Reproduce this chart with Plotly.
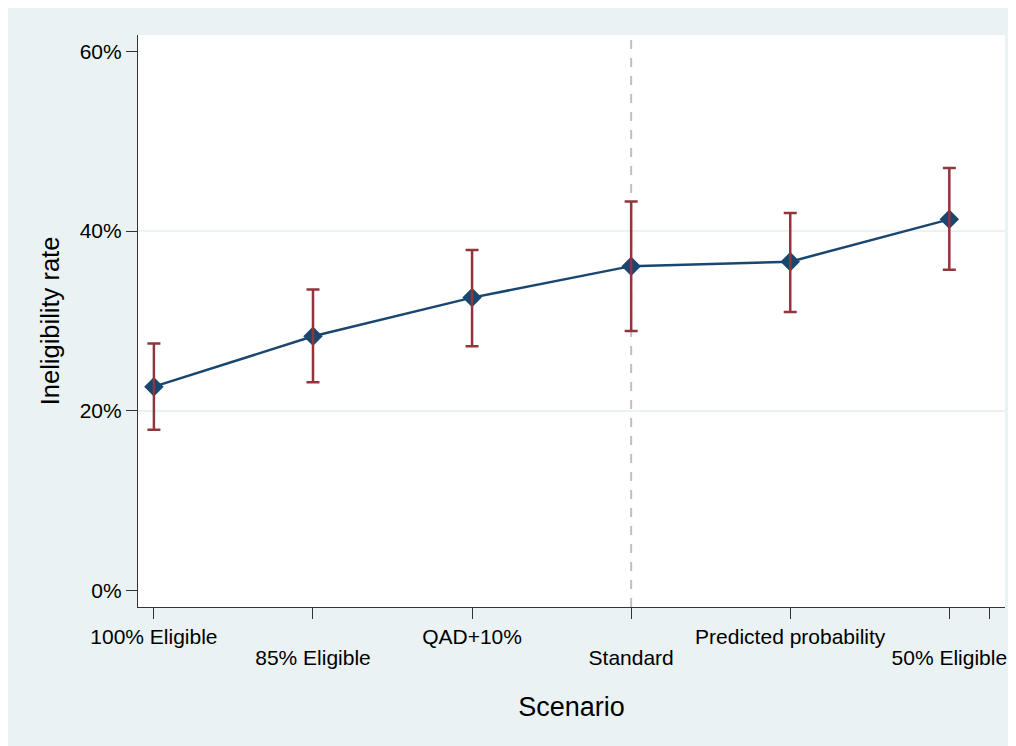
import plotly.graph_objects as go

scenarios = ["100% Eligible", "85% Eligible", "QAD+10%", "Standard", "Predicted probability", "50% Eligible"]
positions = [1, 2, 3, 4, 5, 6]
rate = [22.7, 28.3, 32.6, 36.1, 36.6, 41.3]
ci_low = [17.9, 23.2, 27.2, 28.9, 31.0, 35.7]
ci_high = [27.5, 33.5, 37.9, 43.3, 42.0, 47.0]
y_ticks = [0, 20, 40, 60]
y_tick_labels = ["0%", "20%", "40%", "60%"]
grid_values = [20, 40]
reference_scenario = "Standard"
extra_x_tick = 6.25

NAVY = "#1a476f"
MAROON = "#90353b"
BG = "#eaf2f3"
AXIS = "#333333"

err_plus = [h - r for h, r in zip(ci_high, rate)]
err_minus = [r - l for r, l in zip(rate, ci_low)]

fig = go.Figure()

# gridlines
for g in grid_values:
    fig.add_shape(type="line", xref="paper", yref="y", x0=0, x1=1, y0=g, y1=g,
                  line=dict(color=BG, width=2), layer="below")

# reference line
ref_x = positions[scenarios.index(reference_scenario)]
fig.add_shape(type="line", xref="x", yref="paper", x0=ref_x, x1=ref_x, y0=0, y1=1,
              line=dict(color="#c0c0c0", width=2, dash="dash"), layer="below")

fig.add_trace(go.Scatter(
    x=positions, y=rate, mode="lines+markers",
    line=dict(color=NAVY, width=2.5),
    marker=dict(symbol="diamond", size=15, color=NAVY),
    showlegend=False, hoverinfo="skip"))

fig.add_trace(go.Scatter(
    x=positions, y=rate, mode="markers",
    marker=dict(size=1, opacity=0),
    error_y=dict(type="data", symmetric=False, array=err_plus, arrayminus=err_minus,
                 color=MAROON, thickness=2.5, width=6.5),
    showlegend=False, hoverinfo="skip"))

# invisible trace for the second-row label axis
fig.add_trace(go.Scatter(x=positions, y=rate, xaxis="x2", mode="markers",
                         marker=dict(size=1, opacity=0), showlegend=False, hoverinfo="skip"))

row1_text = [s if i % 2 == 0 else "" for i, s in enumerate(scenarios)]
row2_vals = [p for i, p in enumerate(positions) if i % 2 == 1]
row2_text = [s for i, s in enumerate(scenarios) if i % 2 == 1]

TICKFONT = dict(size=21, color="black")

fig.update_layout(
    width=1016, height=746,
    margin=dict(l=130, r=19, t=27, b=147),
    paper_bgcolor=BG,
    plot_bgcolor="white",
    font=dict(family="Liberation Sans, Arial, sans-serif", color="black"),
    xaxis=dict(
        range=[0.9, 6.35],
        tickvals=positions + [extra_x_tick], ticktext=row1_text + [""],
        ticks="outside", ticklen=11, tickwidth=1.2, tickcolor=AXIS,
        showline=True, linecolor=AXIS, linewidth=1.2,
        showgrid=False, zeroline=False,
        tickfont=TICKFONT,
    ),
    xaxis2=dict(
        matches="x", overlaying="x", side="bottom", anchor="y",
        tickvals=row2_vals, ticktext=row2_text,
        ticks="outside", ticklen=11, tickcolor="rgba(0,0,0,0)",
        showline=False, showgrid=False, zeroline=False,
        ticklabelstandoff=21,
        tickfont=TICKFONT,
        title=dict(text="Scenario", font=dict(size=27), standoff=28),
    ),
    yaxis=dict(
        range=[-1.8, 61.8],
        tickvals=y_ticks, ticktext=y_tick_labels,
        ticks="outside", ticklen=11, tickwidth=1.2, tickcolor=AXIS,
        showline=True, linecolor=AXIS, linewidth=1.2,
        showgrid=False, zeroline=False,
        tickfont=TICKFONT,
        title=dict(text="Ineligibility rate", font=dict(size=25.5), standoff=12),
    ),
)

fig.write_html("out.html", post_script="document.body.style.overflow='hidden';")
